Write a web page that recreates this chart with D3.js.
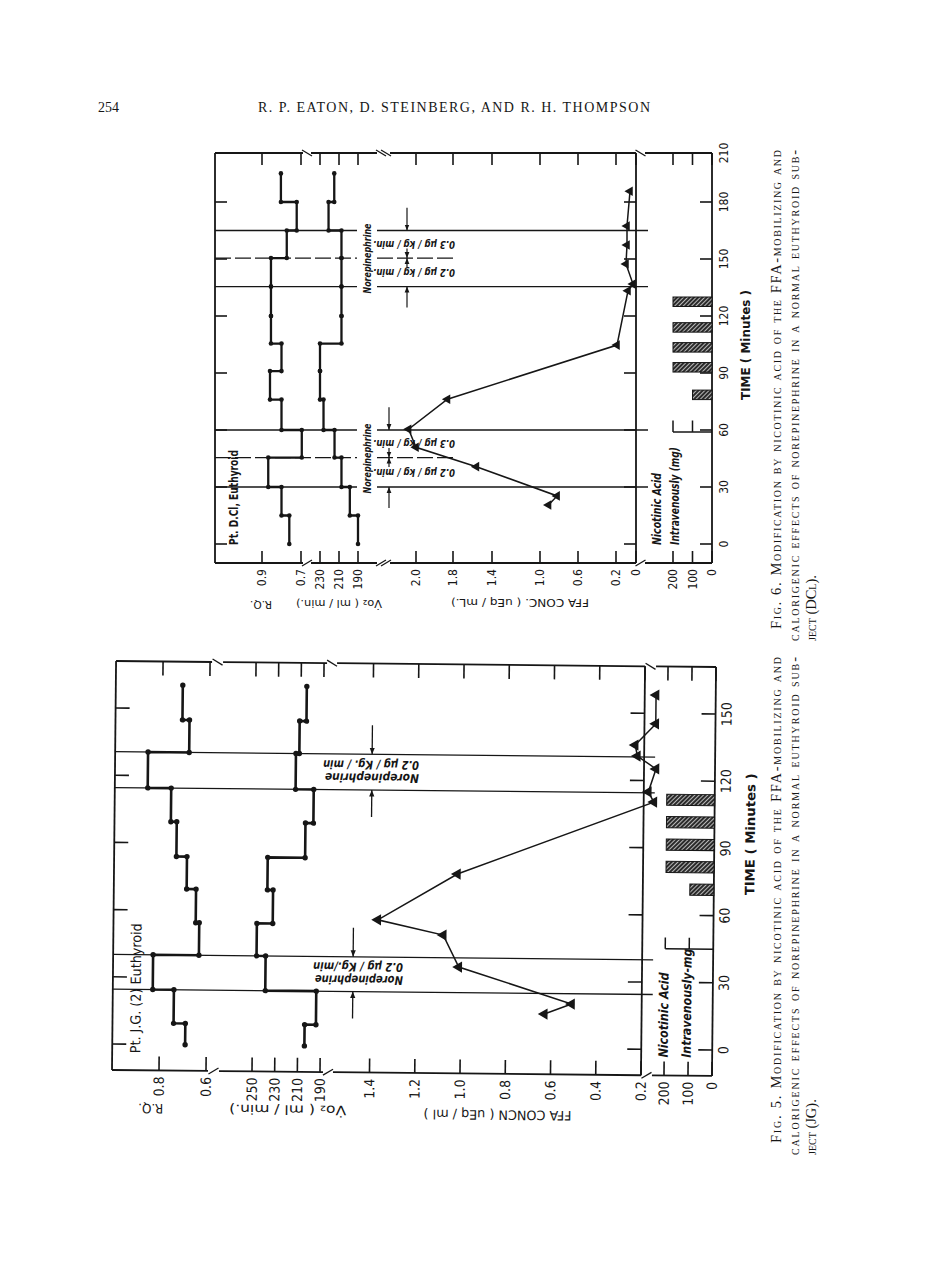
<!DOCTYPE html>
<html>
<head>
<meta charset="utf-8">
<title>Fig. 5 and Fig. 6</title>
<script src="https://cdn.jsdelivr.net/npm/d3@7"></script>
<style>
  body { margin: 0; background: #fff; }
  svg { display: block; }
</style>
</head>
<body>
<svg id="page" width="936" height="1261"></svg>
<script>
// ---- Fig. 5, Pt. J.G. (2) ----
const fig5StepTimes = [0, 9.5, 24.5, 40, 54.5, 69.5, 84, 99.5, 114.5, 130.5, 145, 160.5];
const fig5RQ = [0.69, 0.74, 0.83, 0.635, 0.65, 0.69, 0.735, 0.76, 0.86, 0.685, 0.715];
const fig5VO2 = [204, 194, 239, 247, 233, 238, 205, 198, 214, 211, 205];
const fig5FfaTimes = [15.3, 19.9, 35.9, 50.1, 56.6, 77.4, 110.4, 114.9, 125.2, 130.9, 135.8, 145.3, 158.2];
const fig5FfaValues = [0.63, 0.51, 1.01, 1.08, 1.37, 1.02, 0.155, 0.18, 0.147, 0.23, 0.24, 0.15, 0.15];
const fig5NicStart = [69, 79, 89, 99, 109];
const fig5NicDose = [100, 200, 200, 200, 200];
const fig5Infusions = [[24.5, 40], [114.5, 130.5]];
const fig5DoseText = ["0.2 µg / Kg./min", "0.2 µg / Kg. / min"];
const fig5TimeTicks = [0, 30, 60, 90, 120, 150];
const fig5RqTicks = [0.8, 0.6];
const fig5VoTicks = [250, 230, 210, 190];
const fig5FfaTicks = [1.4, 1.2, 1.0, 0.8, 0.6, 0.4, 0.2];
const fig5NicTicks = [200, 100, 0];

// ---- Fig. 6, Pt. D.Cl ----
const fig6StepTimes = [0, 15, 30, 45.5, 60, 76, 91, 105.5, 120, 135.5, 150.5, 165, 180, 197.5];
const fig6RQ = [0.76, 0.80, 0.868, 0.696, 0.80, 0.859, 0.80, 0.854, 0.854, 0.854, 0.773, 0.722, 0.803];
const fig6VO2 = [190, 198.6, 207.4, 214.7, 226.3, 230, 230, 207.4, 207.4, 207.4, 207.4, 221, 215];
const fig6FfaTimes = [20.5, 25.3, 40.7, 50.9, 60.4, 76.2, 104.7, 133.3, 136.8, 147.4, 157.4, 167.4, 186.6];
const fig6FfaValues = [0.91, 0.82, 1.56, 2.0, 2.04, 1.83, 0.19, 0.08, 0.03, 0.10, 0.09, 0.09, 0.06];
const fig6NicStart = [76, 90.5, 101, 111.5, 125];
const fig6NicDose = [100, 200, 200, 200, 200];
const fig6Infusions = [[30, 45.5, 60], [135.5, 150.5, 165]];
const fig6DoseText = ["0.2 µg / kg / min.", "0.3 µg / kg / min."];
const fig6TimeTicks = [0, 30, 60, 90, 120, 150, 180, 210];
const fig6RqTicks = [0.9, 0.7];
const fig6VoTicks = [230, 210, 190];
const fig6FfaTicks = [2.0, 1.8, 1.4, 1.0, 0.6, 0.2, 0];
const fig6NicTicks = [200, 100, 0];

const ink = "#161616";
const condensed = "'DejaVu Sans Condensed', 'Liberation Sans Narrow', 'DejaVu Sans', sans-serif";
const serif = "'Liberation Serif', 'DejaVu Serif', serif";

const svg = d3.select("#page");
const defs = svg.append("defs");

// hatched nicotinic acid bars
const hatch = defs.append("pattern").attr("id", "hatch")
  .attr("patternUnits", "userSpaceOnUse").attr("width", 3).attr("height", 3)
  .attr("patternTransform", "rotate(45)");
hatch.append("rect").attr("width", 3).attr("height", 3).attr("fill", "#2a2a2a");
hatch.append("line").attr("x1", 0.5).attr("y1", 0).attr("x2", 0.5).attr("y2", 3)
  .attr("stroke", "#c8c8c8").attr("stroke-width", 0.9);

defs.append("marker").attr("id", "arr").attr("viewBox", "0 0 10 10")
  .attr("refX", 10).attr("refY", 5).attr("markerWidth", 5).attr("markerHeight", 6)
  .attr("orient", "auto")
  .append("path").attr("d", "M0,1L10,5L0,9Z").attr("fill", ink);

function label(g, txt, x, y, rot, o = {}) {
  const el = g.append("text")
    .attr("transform", `translate(${x},${y}) rotate(${rot})`)
    .attr("text-anchor", o.anchor || "middle")
    .attr("dominant-baseline", "central")
    .attr("fill", ink)
    .style("font-family", o.family || condensed)
    .style("font-size", (o.size || 12) + "px")
    .style("font-weight", o.weight || "normal")
    .style("font-style", o.italic ? "italic" : "normal")
    .text(txt);
  if (o.len) el.attr("textLength", o.len).attr("lengthAdjust", o.adjust || "spacingAndGlyphs");
  return el;
}

function line(g, x1, y1, x2, y2, w) {
  return g.append("line").attr("x1", x1).attr("y1", y1).attr("x2", x2).attr("y2", y2)
    .attr("stroke", ink).attr("stroke-width", w || 1.6);
}

// one rotated chart: time runs up the page, the value panels run across it
function drawFigure(g, f) {
  const t = f.time;

  // frame
  [f.left, f.axisX, f.right].forEach(x => line(g, x, f.top, x, f.bottom, 1.8));
  f.panels.forEach(p => {
    line(g, p.x0, f.top, p.x1, f.top, 1.8);
    line(g, p.x0, f.bottom, p.x1, f.bottom, 1.8);
  });
  f.breaks.forEach(b => {
    for (let k = 0; k < b.n; k++) {
      const x = b.x + k * 5 - (b.n - 1) * 2.5;
      line(g, x - 5, f.top - 3, x + 5, f.top + 3, 1.3);
      line(g, x - 5, f.bottom + 3, x + 5, f.bottom - 3, 1.3);
    }
  });

  // time ticks on the three vertical lines
  f.timeTicks.forEach(v => {
    const y = t(v);
    if (y < f.top + 2) return;
    line(g, f.left, y, f.left + f.tl, y);
    line(g, f.axisX - f.tl, y, f.axisX, y);
    line(g, f.right - f.tl, y, f.right, y);
  });
  f.timeTicks.forEach(v => label(g, d3.format("d")(v), f.timeLblX, t(v), -90, { size: f.lblSize }));

  // value ticks, top and bottom, labels under the bottom edge
  f.panels.forEach(p => p.ticks.forEach(v => {
    const x = p.s(v);
    line(g, x, f.top, x, f.top + f.tl);
    line(g, x, f.bottom, x, f.bottom - f.tl);
    label(g, p.fmt(v), x, f.bottom + f.lblGap, -90, { anchor: "end", size: f.lblSize });
  }));

  // R.Q. and Vo2 step lines with dots at every change
  f.steps.forEach(st => {
    const pts = [];
    st.vals.forEach((v, i) => {
      pts.push([st.s(v), t(st.times[i])]);
      pts.push([st.s(v), t(st.times[i + 1])]);
    });
    g.append("path").attr("d", d3.line()(pts)).attr("fill", "none")
      .attr("stroke", ink).attr("stroke-width", f.stepW).attr("stroke-linejoin", "miter");
    g.selectAll(null).data(pts).join("circle")
      .attr("cx", d => d[0]).attr("cy", d => d[1]).attr("r", f.dotR).attr("fill", ink);
  });

  // FFA concentration, triangles
  const ffaPts = f.ffaTimes.map((tm, i) => [f.ffaScale(f.ffaValues[i]), t(tm)]);
  g.append("path").attr("d", d3.line()(ffaPts)).attr("fill", "none")
    .attr("stroke", ink).attr("stroke-width", 1.5);
  const tri = d3.symbol().type(d3.symbolTriangle).size(f.triSize);
  g.selectAll(null).data(ffaPts).join("path")
    .attr("d", tri).attr("fill", ink)
    .attr("transform", d => `translate(${d[0]},${d[1]}) rotate(-90)`);

  // nicotinic acid bars
  f.nicStart.forEach((s0, i) => {
    const x = f.nicScale(f.nicDose[i]);
    g.append("rect").attr("x", x).attr("y", t(s0 + 5))
      .attr("width", f.nicScale(0) - x).attr("height", t(s0) - t(s0 + 5))
      .attr("fill", "url(#hatch)").attr("stroke", ink).attr("stroke-width", 1);
  });
  // small dose key
  const ky = t(f.nicKeyT), ky2 = t(f.nicKeyT + f.nicKeyLen);
  line(g, f.nicScale(200), ky, f.nicScale(0), ky, 1.5);
  line(g, f.nicScale(200), ky, f.nicScale(200), ky2, 1.5);
  line(g, f.nicScale(100), ky, f.nicScale(100), ky2, 1.5);
}

const fmt1 = d3.format(".1f"), fmtD = d3.format("d");

// ================= Fig. 5 =================
const g5 = svg.append("g").attr("transform", "rotate(0.57,112,1070)");
const t5 = d3.scaleLinear().domain([0, 150]).range([1044, 708]);
const rq5 = d3.scaleLinear().domain([0.8, 0.6]).range([159, 206]);
const vo5 = d3.scaleLinear().domain([250, 190]).range([252, 320]);
const ffa5 = d3.scaleLinear().domain([1.4, 0.2]).range([369.5, 641]);
const nic5 = d3.scaleLinear().domain([200, 0]).range([664, 712]);

drawFigure(g5, {
  time: t5, top: 661, bottom: 1070, left: 112, right: 712, axisX: ffa5(0.2), tl: 14,
  panels: [
    { s: rq5, x0: 112, x1: 208, ticks: fig5RqTicks, fmt: fmt1 },
    { s: vo5, x0: 219, x1: 323, ticks: fig5VoTicks, fmt: fmtD },
    { s: ffa5, x0: 333, x1: 641, ticks: fig5FfaTicks, fmt: fmt1 },
    { s: nic5, x0: 652, x1: 712, ticks: fig5NicTicks, fmt: fmtD }
  ],
  breaks: [{ x: 213.5, n: 1 }, { x: 328, n: 1 }, { x: 646.5, n: 1 }],
  timeTicks: fig5TimeTicks, timeLblX: 723, lblSize: 14, lblGap: 6,
  steps: [
    { times: fig5StepTimes, vals: fig5RQ, s: rq5 },
    { times: fig5StepTimes, vals: fig5VO2, s: vo5 }
  ],
  stepW: 2.6, dotR: 2.7,
  ffaTimes: fig5FfaTimes, ffaValues: fig5FfaValues, ffaScale: ffa5, triSize: 55,
  nicStart: fig5NicStart, nicDose: fig5NicDose, nicScale: nic5, nicKeyT: 45, nicKeyLen: 5
});

// norepinephrine infusion periods
fig5Infusions.forEach((iv, k) => {
  iv.forEach(tm => line(g5, 112, t5(tm), 652, t5(tm), 1.3));
  const c = (t5(iv[0]) + t5(iv[1])) / 2;
  const xs = k === 0 ? 402 : 416, len = k === 0 ? 90 : 96;
  label(g5, fig5DoseText[k], xs, c - 7.5, 180, { anchor: "start", size: 12, weight: "bold", italic: true, len: len });
  label(g5, "Norepinephrine", xs, c + 5.5, 180, { anchor: "start", size: 12, weight: "bold", italic: true, len: len - 2 });
  const ax = k === 0 ? 352 : 369;
  line(g5, ax, t5(iv[1] + 13), ax, t5(iv[1]), 1.3).attr("marker-end", "url(#arr)");
  line(g5, ax, t5(iv[0] - 12), ax, t5(iv[0]), 1.3).attr("marker-end", "url(#arr)");
});

label(g5, "Pt. J.G. (2)  Euthyroid", 135, 1053, -90, { anchor: "start", size: 14, len: 130 });
label(g5, "Nicotinic Acid", 663, 1052, -90, { anchor: "start", size: 13, weight: "bold", italic: true, len: 85 });
label(g5, "Intravenously-mg", 686, 1052, -90, { anchor: "start", size: 13, weight: "bold", italic: true, len: 109 });
label(g5, "TIME  ( Minutes )", 748, 828, -90, { size: 13, weight: "bold", len: 122 });
label(g5, "R.Q.", 151, 1108, 180, { size: 13, len: 25 });
label(g5, "V̇o₂  ( ml / min.)", 288, 1108, 180, { size: 13, len: 117 });
label(g5, "FFA  CONCN  ( uEq / ml )", 498, 1111, 180, { size: 13, len: 148 });

// ================= Fig. 6 =================
const g6 = svg.append("g");
const t6 = d3.scaleLinear().domain([0, 180, 210]).range([544, 202, 153]);
const rq6 = d3.scaleLinear().domain([0.9, 0.7]).range([262, 301]);
const vo6 = d3.scaleLinear().domain([230, 190]).range([320, 358]);
const ffa6 = d3.scaleLinear().domain([2.0, 1.8, 1.4, 1.0, 0.6, 0.2, 0]).range([416, 453, 492, 540, 578, 616, 636]);
const nic6 = d3.scaleLinear().domain([200, 0]).range([673, 712]);

drawFigure(g6, {
  time: t6, top: 153, bottom: 563, left: 215, right: 712, axisX: ffa6(0), tl: 12,
  panels: [
    { s: rq6, x0: 215, x1: 303, ticks: fig6RqTicks, fmt: fmt1 },
    { s: vo6, x0: 311, x1: 377, ticks: fig6VoTicks, fmt: fmtD },
    { s: ffa6, x0: 390, x1: 636, ticks: fig6FfaTicks, fmt: v => v === 0 ? "0" : fmt1(v) },
    { s: nic6, x0: 645, x1: 712, ticks: fig6NicTicks, fmt: fmtD }
  ],
  breaks: [{ x: 307, n: 1 }, { x: 383.5, n: 2 }, { x: 640.5, n: 1 }],
  timeTicks: fig6TimeTicks, timeLblX: 724, lblSize: 12, lblGap: 6,
  steps: [
    { times: fig6StepTimes, vals: fig6RQ, s: rq6 },
    { times: fig6StepTimes, vals: fig6VO2, s: vo6 }
  ],
  stepW: 2.3, dotR: 2.3,
  ffaTimes: fig6FfaTimes, ffaValues: fig6FfaValues, ffaScale: ffa6, triSize: 40,
  nicStart: fig6NicStart, nicDose: fig6NicDose, nicScale: nic6, nicKeyT: 59, nicKeyLen: 6
});

fig6Infusions.forEach((iv, k) => {
  iv.forEach((tm, j) => {
    const y = t6(tm), xEnd = j === 1 ? 455 : 648;
    const a = line(g6, 215, y, 357, y, 1.3), b = line(g6, 377, y, xEnd, y, 1.3);
    if (j === 1) { a.attr("stroke-dasharray", "16,4"); b.attr("stroke-dasharray", "16,4"); }
  });
  const mid = (t6(iv[0]) + t6(iv[2])) / 2;
  label(g6, "Norepinephrine", 367, mid, -90, { size: 11, weight: "bold", italic: true, len: 70 });
  label(g6, fig6DoseText[0], 455, (t6(iv[0]) + t6(iv[1])) / 2, 180, { anchor: "start", size: 11, weight: "bold", italic: true, len: 82 });
  label(g6, fig6DoseText[1], 455, (t6(iv[1]) + t6(iv[2])) / 2, 180, { anchor: "start", size: 11, weight: "bold", italic: true, len: 82 });
  const ax = k === 0 ? 389 : 407;
  line(g6, ax, t6(iv[2] + 12), ax, t6(iv[2]), 1.2).attr("marker-end", "url(#arr)");
  line(g6, ax, t6(iv[0] - 11), ax, t6(iv[0]), 1.2).attr("marker-end", "url(#arr)");
  line(g6, ax, t6(iv[1] + 5), ax, t6(iv[1]), 1.2).attr("marker-end", "url(#arr)");
  line(g6, ax, t6(iv[1] - 5), ax, t6(iv[1]), 1.2).attr("marker-end", "url(#arr)");
});

label(g6, "Pt. D.Cl, Euthyroid", 233, 545, -90, { anchor: "start", size: 13, weight: "bold", len: 95 });
label(g6, "Nicotinic Acid", 657, 545, -90, { anchor: "start", size: 12, weight: "bold", italic: true, len: 72 });
label(g6, "Intravenously (mg)", 675, 545, -90, { anchor: "start", size: 12, weight: "bold", italic: true, len: 98 });
label(g6, "TIME  ( Minutes )", 746, 345, -90, { size: 12, weight: "bold", len: 110 });
label(g6, "R.Q.", 261, 604, 180, { size: 11, len: 22 });
label(g6, "V̇o₂  ( ml / min.)", 339, 603, 180, { size: 11, len: 86 });
label(g6, "FFA  CONC. ( uEq / mL.)", 520, 602, 180, { size: 11, len: 138 });

// ================= running head and captions =================
svg.append("text").attr("x", 98).attr("y", 112).attr("fill", ink)
  .style("font-family", serif).style("font-size", "14px").text("254");
svg.append("text").attr("x", 258).attr("y", 112).attr("fill", ink)
  .attr("textLength", 392).attr("lengthAdjust", "spacing")
  .style("font-family", serif).style("font-size", "14px")
  .text("R. P. EATON, D. STEINBERG, AND R. H. THOMPSON");

const captions = [
  { x: 776, lines: [
    ["Fig. 5. Modification by nicotinic acid of the FFA-mobilizing and", 1143, 486],
    ["calorigenic effects of norepinephrine in a normal euthyroid sub-", 1155, 498],
    ["ject (JG).", 1155, 0]] },
  { x: 776, lines: [
    ["Fig. 6. Modification by nicotinic acid of the FFA-mobilizing and", 629, 479],
    ["calorigenic effects of norepinephrine in a normal euthyroid sub-", 641, 491],
    ["ject (DCl).", 641, 0]] }
];
captions.forEach(c => c.lines.forEach((ln, i) => {
  const el = svg.append("text")
    .attr("transform", `translate(${c.x + i * 17.5},${ln[1]}) rotate(-90)`)
    .attr("dominant-baseline", "central").attr("fill", ink)
    .style("font-family", serif).style("font-size", "14.5px").style("font-variant", "small-caps")
    .text(ln[0]);
  if (ln[2]) el.attr("textLength", ln[2]).attr("lengthAdjust", "spacing");
}));
</script>
</body>
</html>
